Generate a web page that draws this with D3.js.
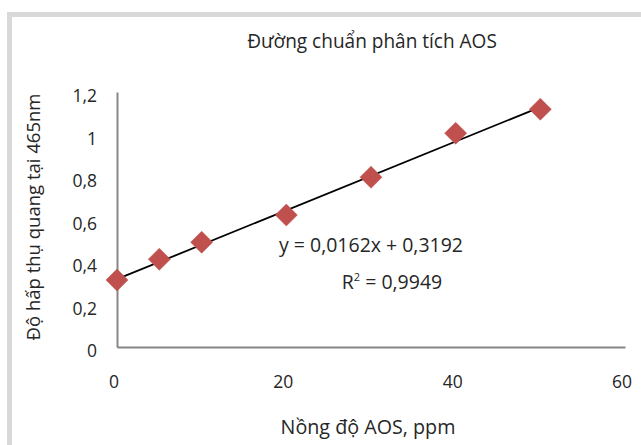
<!DOCTYPE html>
<html>
<head>
<meta charset="utf-8">
<script src="https://cdn.jsdelivr.net/npm/d3@7"></script>
<style>
	body { margin: 0; background: #fff; }
	text { font-family: 'Open Sans', 'Noto Sans', sans-serif; fill: #262626; }
</style>
</head>
<body>
<script>
// Data
const concentrations = [0, 5, 10, 20, 30, 40, 50]
const absorbances = [0.315, 0.413, 0.493, 0.621, 0.799, 1.006, 1.119]
const yTicks = [0, 0.2, 0.4, 0.6, 0.8, 1, 1.2]
const xTicks = [0, 20, 40, 60]
const slope = [0.0162]
const intercept = [0.3192]
const rSquared = ['0,9949']

const width = 641
const height = 445

const svg = d3.select('body').append('svg').attr('width', width).attr('height', height)

svg.append('rect').attr('width', width).attr('height', height).attr('fill', '#fff')

// light grey frame, cut off at the right and bottom
svg.append('rect')
	.attr('x', 9.5)
	.attr('y', 14.5)
	.attr('width', 700)
	.attr('height', 500)
	.attr('fill', 'none')
	.attr('stroke', '#d9d9d9')
	.attr('stroke-width', 5)

const x = d3.scaleLinear().domain([0, 60]).range([117, 625])
const y = d3.scaleLinear().domain([0, 1.2]).range([347, 92])

const comma = d => String(d).replace('.', ',')

// shrink or grow a text node so it spans about the same width as in the picture
function fitWidth(sel, target) {
	const size = parseFloat(sel.attr('font-size'))
	const w = sel.node().getComputedTextLength()
	sel.attr('font-size', (size * target / w).toFixed(2))
}

// Y axis
const yAxis = svg.append('g')
	.attr('transform', 'translate(117,0)')
	.call(d3.axisLeft(y).tickValues(yTicks).tickSize(0).tickPadding(20).tickFormat(comma))
yAxis.select('.domain').attr('stroke', '#868686').attr('stroke-width', 2)
yAxis.selectAll('text').attr('font-size', 17.5).attr('fill', '#262626').attr('dy', '0.55em').style('font-family', null)

// X axis
const xAxis = svg.append('g')
	.attr('transform', 'translate(0,347)')
	.call(d3.axisBottom(x).tickValues(xTicks).tickSize(0).tickPadding(29).tickFormat(comma))
xAxis.select('.domain').attr('stroke', '#868686').attr('stroke-width', 2)
xAxis.selectAll('text').attr('font-size', 17.5).attr('fill', '#262626').attr('dx', '-0.2em')

// Trendline from the fitted equation
const fit = d => slope[0] * d + intercept[0]
const xs = d3.extent(concentrations)
svg.append('line')
	.attr('x1', x(xs[0]))
	.attr('y1', y(fit(xs[0])))
	.attr('x2', x(xs[1]))
	.attr('y2', y(fit(xs[1])))
	.attr('stroke', '#000')
	.attr('stroke-width', 1.8)

// Diamond markers
const diamond = d3.symbol().type(d3.symbolDiamond2).size(310)
svg.selectAll('.marker')
	.data(concentrations)
	.enter()
	.append('path')
	.attr('class', 'marker')
	.attr('d', diamond)
	.attr('transform', (d, i) => 'translate(' + x(d) + ',' + y(absorbances[i]) + ')')
	.attr('fill', '#c0504d')
	.attr('stroke', '#c0504d')
	.attr('stroke-width', 1)
	.attr('stroke-opacity', 0.5)

// trendline label
const eq = svg.append('text')
	.attr('x', 371)
	.attr('y', 252)
	.attr('text-anchor', 'middle')
	.attr('font-size', 17)
	.text('y = ' + comma(slope[0]) + 'x + ' + comma(intercept[0]))
fitWidth(eq, 184)

const r2 = svg.append('text')
	.attr('x', 392)
	.attr('y', 289)
	.attr('text-anchor', 'middle')
	.attr('font-size', eq.attr('font-size'))
r2.append('tspan').text('R')
r2.append('tspan').attr('font-size', 11).attr('dy', -8).text('2')
r2.append('tspan').attr('dy', 8).text(' = ' + rSquared[0])

// Titles
const title = svg.append('text')
	.attr('x', 372)
	.attr('y', 48)
	.attr('text-anchor', 'middle')
	.attr('font-size', 17)
	.text('Đường chuẩn phân tích AOS')
fitWidth(title, 250)

const xTitle = svg.append('text')
	.attr('x', 368)
	.attr('y', 434)
	.attr('text-anchor', 'middle')
	.attr('font-size', 17)
	.text('Nồng độ AOS, ppm')
fitWidth(xTitle, 175)

const yTitle = svg.append('text')
	.attr('transform', 'translate(40,217) rotate(-90)')
	.attr('text-anchor', 'middle')
	.attr('font-size', 17)
	.text('Độ hấp thụ quang tại 465nm')
fitWidth(yTitle, 247)
</script>
</body>
</html>
